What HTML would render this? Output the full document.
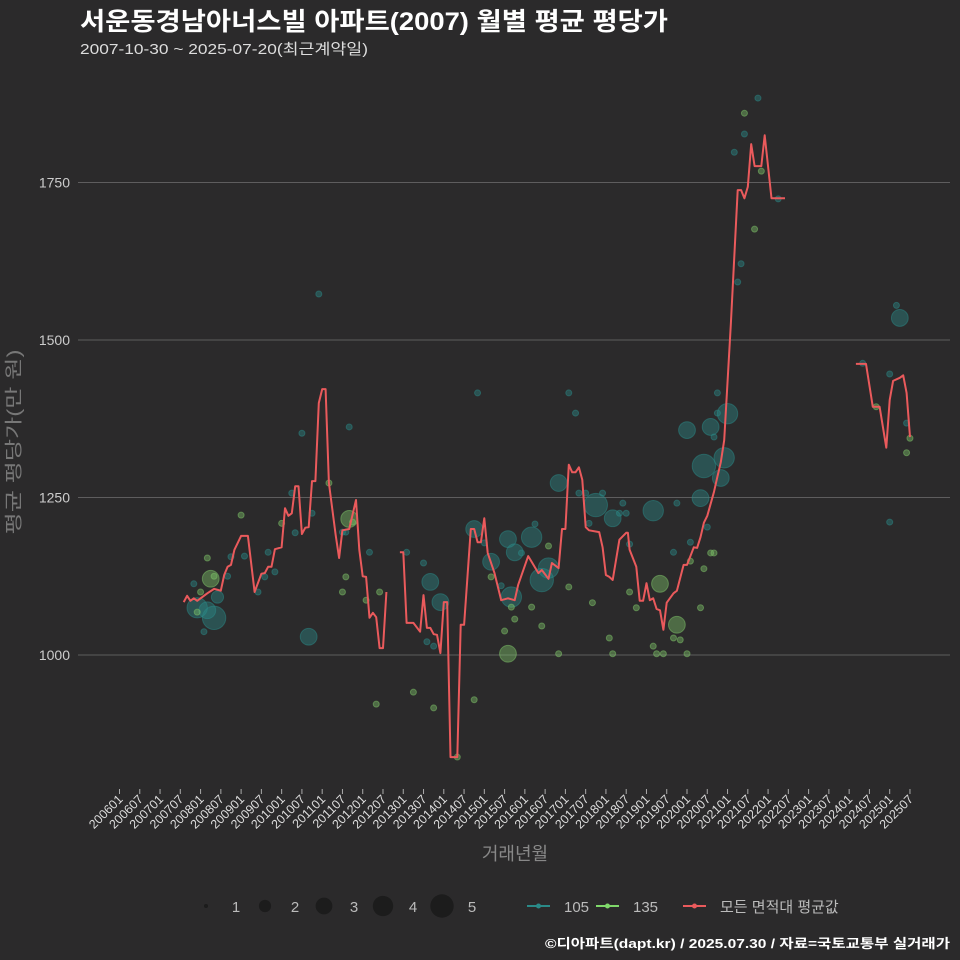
<!DOCTYPE html>
<html><head><meta charset="utf-8">
<style>
html,body{margin:0;padding:0;background:#2b2a2b;}
svg{display:block;font-family:"Liberation Sans","Noto Sans CJK KR",sans-serif;}
</style></head>
<body>
<svg id="chart" width="960" height="960" viewBox="0 0 960 960" xmlns="http://www.w3.org/2000/svg">
<rect width="960" height="960" fill="#2b2a2b"/>
<text x="80" y="30" fill="#ffffff" font-size="25" font-weight="bold" textLength="588" lengthAdjust="spacingAndGlyphs">서운동경남아너스빌 아파트(2007) 월별 평균 평당가</text>
<text x="80" y="54" fill="#dddddd" font-size="15" textLength="288" lengthAdjust="spacingAndGlyphs">2007-10-30 ~ 2025-07-20(최근계약일)</text>
<g id="grid"></g>
<g id="bubbles"></g>
<g id="line"></g>
<g id="xaxis"></g>
<text x="515" y="860" fill="#888888" font-size="18" text-anchor="middle">거래년월</text>
<text transform="translate(20,442) rotate(-90)" fill="#777777" font-size="18" text-anchor="middle" textLength="185" lengthAdjust="spacingAndGlyphs">평균 평당가(만 원)</text>
<g id="legend"></g>
<text x="950" y="948" fill="#ffffff" font-size="13" font-weight="bold" text-anchor="end" textLength="405" lengthAdjust="spacingAndGlyphs">©디아파트(dapt.kr) / 2025.07.30 / 자료=국토교통부 실거래가</text>
</svg>
<script>
// months since 2006-01
const yTicks = [1000, 1250, 1500, 1750];
const xTickLabels = [];
for (let y = 2006; y <= 2025; y++) { xTickLabels.push(y + "01"); xTickLabels.push(y + "07"); }
const avgMonths = [19,20,21,22,23,24,26,28,30,31,32,33,34,36,38,40,42,43,44,45,46,48,49,50,51,52,53,54,55,56,57,58,59,60,61,62,64,65,66,68,70,71,72,73,74,75,76,77,78,79,
 null,
 83,84,85,87,89,90,91,92,93,94,95,96,97,98,100,101,102,104,105,106,107,108,109,111,113,115,117,118,121,122,124,125,127,128,130,131,132,133,134,135,136,137,138,139,142,143,144,145,146,148,150,150.5,151,153,154,155,156,157,158,159,160,161,162,164,165,167,168,170,171,172,173,174,176,177,178,179,181,183,184,185,186,187,188,190,191,193,197,
 null,
 218,221,223,225,227,228,229,231,232,233,234];
const avgValues = [1084,1094,1086,1090,1086,1090,1098,1105,1102,1127,1140,1143,1167,1189,1189,1100,1129,1130,1140,1140,1168,1171,1233,1221,1225,1268,1268,1192,1202,1203,1276,1276,1400,1422,1422,1273,1190,1154,1198,1200,1246,1167,1125,1124,1059,1067,1060,1011,1011,1100,
 null,
 1163,1163,1051,1051,1037,1095,1043,1043,1033,1032,1003,1084,1084,838,838,1048,1048,1200,1200,1179,1179,1217,1162,1130,1087,1090,1087,1111,1157,1148,1130,1135,1121,1146,1138,1200,1200,1302,1290,1290,1298,1278,1203,1198,1195,1171,1127,1124,1119,1183,1194,1194,1167,1140,1086,1086,1114,1087,1090,1073,1071,1040,1083,1098,1102,1143,1143,1171,1170,1187,1210,1221,1259,1283,1306,1341,1527,1738,1738,1725,1743,1811,1776,1776,1825,1725,1725,
 null,
 1462,1462,1394,1394,1329,1405,1435,1440,1444,1416,1346];
const bubbleMonths = [26,36,33,37,32,23,28,26,29,27,22,24,23,25,28,41,44,43,46,48,51,52,54,57,56,62,68,68,69,66,67,74,67,66,73,77,59,76,85,90,92,95,91,93,87,93,105,100,105,108,115,117,110,122,123,119,127,125,127,116,113,110,116,117,114,122,125,115,130,133,106,133,135,130,141,146,136,138,143,149,148,150,139,151,158,165,164,140,151,153,145,146,160,165,158,159,161,164,166,168,172,173,169,175,176,169,174,173,178,179,172,168,175,176,180,177,177,184,183,188,190,182,185,185,195,189,230,231,228,220,224,233,234,233,228];
const bubbleValues = [1154,1222,1156,1157,1125,1075,1059,1071,1092,1121,1113,1100,1068,1037,1125,1100,1163,1124,1132,1209,1257,1194,1352,1225,1029,1273,1362,1216,1211,1195,1195,1163,1124,1100,1087,1100,1573,922,1163,1146,1116,1084,1021,1014,941,916,929,838,1200,1178,1184,1163,1148,1187,1208,1162,1173,1119,1138,1092,1110,1124,1076,1057,1038,1076,1046,1002,1002,1108,1416,1416,1384,1273,1238,1217,1257,1257,1257,1241,1225,1225,1209,1176,1229,1241,1163,1083,1100,1075,1027,1002,1113,1048,1014,1002,1002,1027,1024,1002,1075,1137,1149,1162,1162,1179,1203,1300,1281,1313,1249,1357,1362,1346,1383,1384,1416,1621,1592,1676,1768,1798,1827,1860,1724,1884,1555,1535,1446,1463,1394,1368,1344,1321,1211];
const bubbleCounts = [1,1,1,1,1,4,5,3,2,3,1,1,1,1,1,1,1,1,1,1,1,1,1,1,3,1,1,3,1,1,1,1,1,1,1,1,1,1,1,1,3,3,1,1,1,1,1,1,3,1,3,3,3,4,1,1,1,5,4,4,1,1,1,1,1,1,1,3,1,1,1,1,1,3,5,3,1,1,1,1,1,1,1,1,4,1,1,1,1,1,1,1,3,3,1,1,1,1,1,1,1,1,1,1,1,1,1,5,3,4,3,3,3,1,4,1,1,1,1,1,1,1,1,1,1,1,1,3,1,1,1,1,1,1,1];
const bubbleTypes = ["135","135","105","105","105","105","105","105","105","135","105","135","135","105","135","105","105","105","105","135","105","105","105","105","105","135","105","135","135","105","105","105","135","135","135","135","105","135","105","105","105","105","105","105","135","135","135","135","105","105","105","105","105","105","105","105","135","105","105","105","105","135","135","135","135","135","135","135","135","135","105","105","105","105","105","105","105","105","105","105","105","105","105","105","105","105","105","135","135","135","135","135","135","135","135","135","135","135","135","135","135","135","135","135","135","105","105","105","105","105","105","105","105","105","105","105","105","105","105","135","135","105","105","135","105","105","105","105","105","105","135","105","135","135","105"];

const NS = "http://www.w3.org/2000/svg";
function xS(m){ return 119.5 + m * 3.378; }
function yS(v){ return 655 - (v - 1000) * 0.63; }
function rS(n){ return Math.sqrt(4 + (n - 1) * 33.2); }
function mk(tag, attrs, parent){ const e = document.createElementNS(NS, tag); for (const k in attrs) e.setAttribute(k, attrs[k]); parent.appendChild(e); return e; }

const grid = document.getElementById('grid');
yTicks.forEach(v => {
  const l = mk('line', {x1:78, x2:950, y1:yS(v), y2:yS(v), stroke:'#5e5d5e', 'stroke-width':1}, grid);
  
  
  const t = mk('text', {x:70, y:yS(v)+5, fill:'#cccccc', 'font-size':14, 'text-anchor':'end'}, grid);
  t.textContent = v;
  
  
});

const xa = document.getElementById('xaxis');
xTickLabels.forEach((lab, i) => {
  const x = xS(i * 6);
  const tk = mk('line', {x1:x, x2:x, y1:789, y2:794, stroke:'#aaaaaa', 'stroke-width':1}, xa);
  
  
  const t = mk('text', {transform:`translate(${x+4},${800}) rotate(-45)`, fill:'#dddddd', 'font-size':12.5, 'text-anchor':'end'}, xa);
  t.textContent = lab;
  
  
});

const bg = document.getElementById('bubbles');
const fills = {"105":"#2a8a88", "135":"#7fc66a"};
bubbleMonths.forEach((m, i) => {
  const c = mk('circle', {cx:xS(m), cy:yS(bubbleValues[i]), r:Math.max(3, rS(bubbleCounts[i])), fill:fills[bubbleTypes[i]], 'fill-opacity':0.42, stroke:fills[bubbleTypes[i]], 'stroke-opacity':0.5, 'stroke-width':1}, bg);
  
  
});

const lg = document.getElementById('line');
let d = '', pen = false;
avgMonths.forEach((m, i) => {
  const v = avgValues[i];
  if (m === null || v === null) { pen = false; return; }
  d += (pen ? 'L' : 'M') + xS(m).toFixed(1) + ',' + yS(v).toFixed(1);
  pen = true;
});
const p = mk('path', {d:d, fill:'none', stroke:'#ea5a5c', 'stroke-width':2, 'stroke-linejoin':'round'}, lg);



const leg = document.getElementById('legend');
const legCounts = [1,2,3,4,5];
legCounts.forEach((n, i) => {
  const cx = 206 + i * 59;
  const c = mk('circle', {cx:cx, cy:906, r:rS(n), fill:'#1c1c1c'}, leg);
  
  
  const t = mk('text', {x:cx+30, y:912, fill:'#bbbbbb', 'font-size':15, 'text-anchor':'middle'}, leg);
  t.textContent = n;
  
  
});
const legSeries = [["105", "#2a8a88", 527], ["135", "#7fd86a", 596], ["모든 면적대 평균값", "#ea5a5c", 683]];
legSeries.forEach(s => {
  const g = mk('g', {}, leg);
  
  
  mk('line', {x1:s[2], x2:s[2]+23, y1:906, y2:906, stroke:s[1], 'stroke-width':2}, g);
  mk('circle', {cx:s[2]+11.5, cy:906, r:2.5, fill:s[1]}, g);
  const t = mk('text', {x:s[2]+37, y:912, fill:'#bbbbbb', 'font-size':15}, g);
  t.textContent = s[0];
});
</script>
</body></html>
